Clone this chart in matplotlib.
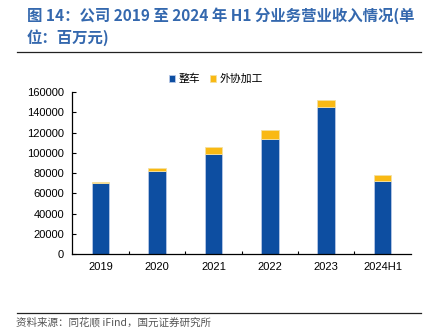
import matplotlib
matplotlib.use("Agg")
import matplotlib.pyplot as plt
from matplotlib.lines import Line2D
import numpy as np

categories = ["2019", "2020", "2021", "2022", "2023", "2024H1"]
vehicle = [69800, 82300, 99100, 113900, 145500, 72400]
outsourced = [1400, 3000, 7200, 8600, 7300, 5300]
series_names = ["整车", "外协加工"]
yticks = [0, 20000, 40000, 60000, 80000, 100000, 120000, 140000, 160000]

title_lines = ["图 14：公司 2019 至 2024 年 H1 分业务营业收入情况(单", "位：百万元)"]
source = "资料来源：同花顺 iFind，国元证券研究所"

cjk = ["Noto Sans CJK SC", "DejaVu Sans"]
num = ["Liberation Sans", "Noto Sans CJK SC"]

blue = "#0d4ea1"
yellow = "#f9b914"

W, H = 431, 335
fig = plt.figure(figsize=(W / 100, H / 100), dpi=100)
ax = fig.add_axes([0.168, 0.242, 0.785, 0.4825])

x = np.arange(len(categories))
ax.bar(x, vehicle, width=0.31, color=blue, edgecolor="#b8c8e6", linewidth=0.6, label=series_names[0], zorder=2)
ax.bar(x, outsourced, bottom=vehicle, width=0.31, color=yellow, edgecolor="#f5e0a0", linewidth=0.6, label=series_names[1], zorder=2)

ax.set_xlim(-0.5, len(categories) - 0.5)
ax.set_ylim(0, 160000)
ax.set_yticks(yticks)
ax.set_yticklabels([str(v) for v in yticks], fontfamily=num, fontsize=8)
ax.set_xticks(x)
ax.set_xticklabels(categories, fontfamily=num, fontsize=8)
ax.tick_params(axis="x", length=0, pad=6)
ax.tick_params(axis="y", direction="in", length=3, width=0.8, pad=6)
ax.set_xticks(np.arange(0.5, len(categories) - 0.5, 1), minor=True)
ax.tick_params(axis="x", which="minor", direction="in", length=2.5, width=0.8)
ax.tick_params(axis="y", which="minor", length=0)

for s in ["top", "right"]:
    ax.spines[s].set_visible(False)
for s in ["left", "bottom"]:
    ax.spines[s].set_linewidth(0.9)
    ax.spines[s].set_color("#000000")

handles, labels = ax.get_legend_handles_labels()
fig.legend(handles, labels, loc="center", bbox_to_anchor=(216 / W, 1 - 79 / H), ncol=2, frameon=False,
           prop={"family": cjk, "size": 7.8}, handlelength=0.6, handleheight=0.6,
           handletextpad=0.3, columnspacing=0.9, borderpad=0, borderaxespad=0)

fig.text(27 / W, 1 - 16 / H, title_lines[0], fontfamily=cjk, fontsize=11.1, fontweight="bold",
         color="#3468ae", va="center", ha="left")
fig.text(27 / W, 1 - 38 / H, title_lines[1], fontfamily=cjk, fontsize=11.1, fontweight="bold",
         color="#3468ae", va="center", ha="left")
fig.add_artist(Line2D([17 / W, 421 / W], [1 - 52 / H, 1 - 52 / H], color="#222222", linewidth=0.9))
fig.add_artist(Line2D([17 / W, 421 / W], [1 - 313 / H, 1 - 313 / H], color="#222222", linewidth=0.9))
fig.text(16 / W, 1 - 322 / H, source, fontfamily=cjk, fontsize=7.6, color="#555555", va="center", ha="left")

fig.savefig("out.png", dpi=100)
